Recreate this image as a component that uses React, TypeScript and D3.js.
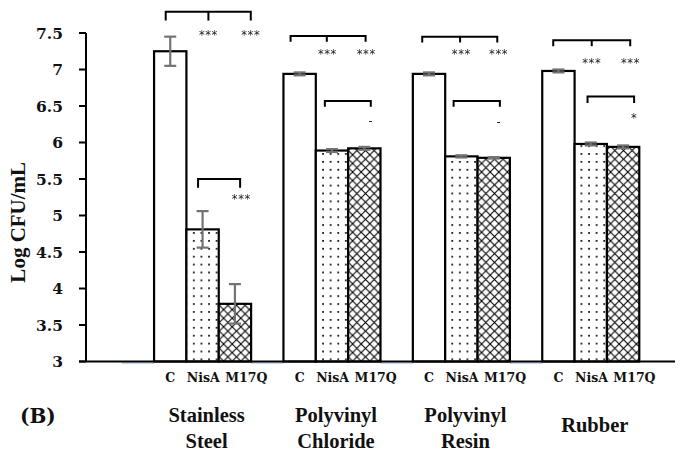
import React from "react";
import * as d3 from "d3";

const groups = ["Stainless Steel", "Polyvinyl Chloride", "Polyvinyl Resin", "Rubber"];
const groupLines = [["Stainless", "Steel"], ["Polyvinyl", "Chloride"], ["Polyvinyl", "Resin"], ["Rubber"]];
const slots = ["", "C", "NisA", "M17Q"];
const treatments = ["C", "NisA", "M17Q"];
const valuesC = [7.25, 6.94, 6.94, 6.98];
const valuesNisA = [4.81, 5.89, 5.81, 5.98];
const valuesM17Q = [3.79, 5.92, 5.79, 5.94];
const errC = [0.2, 0.02, 0.02, 0.02];
const errNisA = [0.25, 0.02, 0.015, 0.02];
const errM17Q = [0.27, 0.02, 0.01, 0.02];
const yTicks = [3, 3.5, 4, 4.5, 5, 5.5, 6, 6.5, 7, 7.5];

// significance brackets: group index, leg positions (in slot units), level, leg bottom, middle leg position (or null), labels
const brackets = [
  { g: 0, from: 1.36, to: 3.99, mid: 2.68, level: 7.79, leg: 7.67, marks: [[2.68, "***", 7.49], [3.99, "***", 7.49]] },
  { g: 0, from: 2.36, to: 3.66, mid: null, level: 5.5, leg: 5.38, marks: [[3.7, "***", 5.24]] },
  { g: 1, from: 1.22, to: 3.54, mid: 2.34, level: 7.46, leg: 7.38, marks: [[2.36, "***", 7.23], [3.56, "***", 7.23]] },
  { g: 1, from: 2.28, to: 3.7, mid: null, level: 6.57, leg: 6.49, marks: [[3.7, "-", 6.29]] },
  { g: 2, from: 1.29, to: 3.61, mid: 2.46, level: 7.45, leg: 7.37, marks: [[2.5, "***", 7.23], [3.65, "***", 7.23]] },
  { g: 2, from: 2.26, to: 3.69, mid: null, level: 6.57, leg: 6.49, marks: [[3.66, "-", 6.27]] },
  { g: 3, from: 1.34, to: 3.72, mid: 2.53, level: 7.4, leg: 7.32, marks: [[2.53, "***", 7.1], [3.73, "***", 7.1]] },
  { g: 3, from: 2.4, to: 3.84, mid: null, level: 6.63, leg: 6.54, marks: [[3.84, "*", 6.35]] },
];

const W = 688;
const H = 456;
const serifBold = "'Liberation Serif', 'Times New Roman', serif";
const dejaSerif = "'DejaVu Serif', serif";

export default function App() {
  const x0 = d3.scaleBand<string>().domain(groups).range([86, 675]).paddingInner(0).paddingOuter(0.276);
  const x1 = d3.scaleBand<string>().domain(slots).range([0, x0.bandwidth()]);
  const y = d3.scaleLinear().domain([3, 7.5]).range([361.5, 33]);
  const sw = x1.step();

  const series: Record<string, number[]> = { C: valuesC, NisA: valuesNisA, M17Q: valuesM17Q };
  const errs: Record<string, number[]> = { C: errC, NisA: errNisA, M17Q: errM17Q };
  const fills: Record<string, string> = { C: "#fff", NisA: "url(#dots)", M17Q: "url(#hatch)" };
  const labelOffset: Record<string, number> = { C: 0, NisA: 33, M17Q: 76 };
  const y0 = y(3);

  return (
    <svg width={W} height={H} style={{ position: "absolute", left: 0, top: 0, background: "#fff" }}>
      <defs>
        <pattern id="dots" patternUnits="userSpaceOnUse" width={7.6} height={7.9}>
          <rect width={7.6} height={7.9} fill="#fff" />
          <rect x={3} y={3} width={1.7} height={1.7} fill="#000" />
        </pattern>
        <pattern id="hatch" patternUnits="userSpaceOnUse" width={8.6} height={8.6}>
          <rect width={8.6} height={8.6} fill="#fff" />
          <path d="M0,0 L8.6,8.6 M8.6,0 L0,8.6" stroke="#000" strokeWidth={1.1} />
        </pattern>
        <filter id="gray" x="0" y="0" width="1" height="1">
          <feColorMatrix type="saturate" values="0" />
        </filter>
      </defs>

      {/* y axis */}
      <line x1={86} x2={86} y1={y(7.5)} y2={y0} stroke="#000" strokeWidth={2} />
      {yTicks.map((t) => (
        <g key={t}>
          <line x1={79} x2={86} y1={y(t)} y2={y(t)} stroke="#000" strokeWidth={2} />
          <text x={63} y={y(t)} dy="0.36em" textAnchor="end" fontFamily={dejaSerif} fontWeight="bold" fontSize={15.5} fill="#111">
            {String(t)}
          </text>
        </g>
      ))}
      <text transform={`translate(25,${(y(7.5) + y0) / 2 + 25}) rotate(-90)`} textAnchor="middle" fontFamily={serifBold} fontWeight="bold" fontSize={21} fill="#111">
        Log CFU/mL
      </text>

      {/* empty slot markers */}
      {groups.map((g) => (
        <line key={"e" + g} x1={(x0(g) as number) + (x1("") as number)} x2={(x0(g) as number) + (x1("") as number) + sw} y1={y0 + 1.5} y2={y0 + 1.5} stroke="#8fb0dc" strokeWidth={1} />
      ))}

      {/* bars */}
      {groups.map((g, gi) =>
        treatments.map((t) => {
          const bx = (x0(g) as number) + (x1(t) as number);
          const v = series[t][gi];
          return (
            <rect key={g + t} x={bx} y={y(v)} width={sw} height={y0 - y(v)} fill={fills[t]} stroke="#000" strokeWidth={2.2} />
          );
        })
      )}

      {/* x axis */}
      <line x1={79} x2={675} y1={y0} y2={y0} stroke="#000" strokeWidth={2.2} />

      {/* error bars */}
      {groups.map((g, gi) =>
        treatments.map((t) => {
          const cx = (x0(g) as number) + (x1(t) as number) + sw / 2;
          const v = series[t][gi];
          const e = errs[t][gi];
          return (
            <g key={"err" + g + t} stroke="#737373" strokeWidth={2.2}>
              <line x1={cx} x2={cx} y1={y(v + e)} y2={y(v - e)} />
              <line x1={cx - 6} x2={cx + 6} y1={y(v + e)} y2={y(v + e)} />
              <line x1={cx - 6} x2={cx + 6} y1={y(v - e)} y2={y(v - e)} />
            </g>
          );
        })
      )}

      {/* brackets */}
      {brackets.map((b, i) => {
        const gx = x0(groups[b.g]) as number;
        const xa = gx + b.from * sw;
        const xb = gx + b.to * sw;
        return (
          <g key={"br" + i}>
            <path d={`M${xa},${y(b.leg)} V${y(b.level)} H${xb} V${y(b.leg)}`} fill="none" stroke="#000" strokeWidth={2} />
            {b.mid !== null && (
              <line x1={gx + b.mid * sw} x2={gx + b.mid * sw} y1={y(b.level)} y2={y(b.leg)} stroke="#000" strokeWidth={2} />
            )}
          </g>
        );
      })}
      <g filter="url(#gray)">
        <rect x={0} y={0} width={W} height={H} fill="none" />
        {brackets.map((b, i) => {
          const gx = x0(groups[b.g]) as number;
          return b.marks.map((m, j) => (
            <text key={i + "-" + j} x={gx + (m[0] as number) * sw} y={y(m[2] as number)} dy={m[1] === "-" ? "0.3em" : "0.45em"} textAnchor="middle" fontFamily="'DejaVu Sans', sans-serif" fontSize={11.5} letterSpacing={0.6} fill="#222">
              {m[1] as string}
            </text>
          ));
        })}
      </g>

      {/* treatment labels */}
      {groups.map((g) =>
        treatments.map((t) => (
          <text key={"l" + g + t} x={(x0(g) as number) + (x1("C") as number) + sw / 2 + labelOffset[t]} y={382} textAnchor="middle" fontFamily={dejaSerif} fontWeight="bold" fontSize={12.5} fill="#111">
            {t}
          </text>
        ))
      )}

      {/* group labels */}
      {groups.map((g, gi) => {
        const cx = (x0(g) as number) + (x1("C") as number) + (sw * 3) / 2 + 4;
        const lines = groupLines[gi];
        return lines.length === 1 ? (
          <text key={"g" + g} x={cx} y={432} textAnchor="middle" fontFamily={serifBold} fontWeight="bold" fontSize={20.5} fill="#111">
            {lines[0]}
          </text>
        ) : (
          <text key={"g" + g} x={cx} y={421.5} textAnchor="middle" fontFamily={serifBold} fontWeight="bold" fontSize={20.5} fill="#111">
            <tspan x={cx}>{lines[0]}</tspan>
            <tspan x={cx} dy={26.5}>{lines[1]}</tspan>
          </text>
        );
      })}

      <text x={20} y={423} fontFamily={dejaSerif} fontWeight="bold" fontSize={20} fill="#111">(B)</text>
    </svg>
  );
}
